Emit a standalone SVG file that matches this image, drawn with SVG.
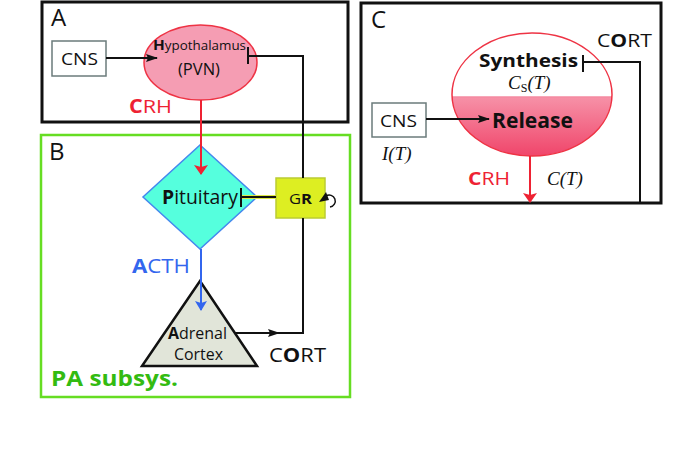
<svg xmlns="http://www.w3.org/2000/svg" width="678" height="449" viewBox="0 0 678 449">
<style>
text{font-family:"Open Sans",Lato,"DejaVu Sans",sans-serif;fill:#111}
.b{font-weight:bold}
.lbl{font-size:24px}
.frame{fill:none;stroke:#111;stroke-width:3}
.cns{fill:#fff;stroke:#6b7b7b;stroke-width:1.5}
.ln{fill:none;stroke:#111;stroke-width:2}
.math{font-family:"Liberation Serif","DejaVu Serif",serif;font-style:italic;font-size:19px}
</style>
<defs>
<marker id="ak" markerWidth="12" markerHeight="8" refX="11" refY="4" orient="auto" markerUnits="userSpaceOnUse"><path d="M0,0 L12,4 L0,8 L2,4 z" fill="#111"/></marker>
<marker id="ar" markerWidth="10" markerHeight="14" refX="9" refY="7" orient="auto" markerUnits="userSpaceOnUse"><path d="M0,0 L10,7 L0,14 L2,7 z" fill="#ee2233"/></marker>
<marker id="ab" markerWidth="10" markerHeight="12" refX="9" refY="6" orient="auto" markerUnits="userSpaceOnUse"><path d="M0,0 L10,6 L0,12 L2,6 z" fill="#3366ee"/></marker>
<linearGradient id="rg" x1="0" y1="0" x2="0" y2="1"><stop offset="0" stop-color="#fde4ea"/><stop offset="1" stop-color="#f0456a"/></linearGradient>
<clipPath id="bot"><rect x="440" y="97" width="190" height="70"/></clipPath>
</defs>

<g id="boxA"><rect class="frame" x="42" y="2" width="306" height="120"/><text class="lbl" x="51" y="26">A</text></g>
<g id="boxB"><rect x="41" y="135" width="309" height="262" fill="none" stroke="#66dd22" stroke-width="2.5"/><text class="lbl" x="49" y="160">B</text><text class="b" x="51" y="386" font-size="22" textLength="127" lengthAdjust="spacingAndGlyphs" style="fill:#33bb11">PA subsys.</text></g>
<g id="boxC"><rect class="frame" x="361" y="3" width="300" height="200"/><text class="lbl" x="371" y="28">C</text></g>

<g id="cnsA"><rect class="cns" x="52" y="41" width="54" height="35"/><text x="61" y="65" font-size="17" textLength="37" lengthAdjust="spacingAndGlyphs">CNS</text></g>
<g id="hypothalamus"><ellipse cx="200.5" cy="62.5" rx="56.5" ry="37.5" fill="#f59db3" stroke="#ee3344" stroke-width="1.5"/>
<text x="153" y="50" font-size="13" textLength="93" lengthAdjust="spacingAndGlyphs"><tspan class="b" font-size="15">H</tspan>ypothalamus</text>
<text x="178" y="75" font-size="17" textLength="42" lengthAdjust="spacingAndGlyphs">(PVN)</text></g>
<text x="129" y="113" font-size="19" textLength="43" lengthAdjust="spacingAndGlyphs" style="fill:#ee2233"><tspan class="b" style="fill:#ee2233">C</tspan>RH</text>

<g id="pituitary"><polygon points="200,145 257,197 200,249 143,197" fill="#55ffdd" stroke="#4488ee" stroke-width="1.5"/>
<text x="162" y="204" font-size="20" textLength="76" lengthAdjust="spacingAndGlyphs"><tspan class="b">P</tspan>ituitary</text></g>
<g id="gr"><rect x="276" y="178" width="49" height="40" fill="#ddee22" stroke="#bbcc33" stroke-width="1.5"/>
<text x="289" y="204" font-size="15" textLength="23" lengthAdjust="spacingAndGlyphs">G<tspan class="b">R</tspan></text>
<path d="M326,196 A6,6 0 1 1 330,207" fill="none" stroke="#111" stroke-width="1.5"/>
<path d="M319,202 L326,192 L329,200 z" fill="#111"/></g>
<text x="132" y="273" font-size="20" textLength="58" lengthAdjust="spacingAndGlyphs" style="fill:#3366ee"><tspan class="b" style="fill:#3366ee">A</tspan>CTH</text>

<g id="adrenal"><polygon points="200,281 257,366 142,366" fill="#e1e5d9" stroke="#111" stroke-width="2.5" stroke-linejoin="miter"/>
<text x="168" y="339" font-size="16" textLength="59" lengthAdjust="spacingAndGlyphs"><tspan class="b">A</tspan>drenal</text>
<text x="174" y="360" font-size="16" textLength="49" lengthAdjust="spacingAndGlyphs">Cortex</text></g>
<text x="269" y="362" font-size="20" textLength="57" lengthAdjust="spacingAndGlyphs">C<tspan class="b">O</tspan>RT</text>

<g id="unit"><ellipse cx="532" cy="94.5" rx="80" ry="61.5" fill="#fff"/>
<ellipse cx="532" cy="94.5" rx="80" ry="61.5" fill="url(#rg)" clip-path="url(#bot)"/>
<line x1="452" y1="97" x2="612" y2="97" stroke="#f48aa0" stroke-width="1.5"/>
<ellipse cx="532" cy="94.5" rx="80" ry="61.5" fill="none" stroke="#ee3344" stroke-width="1.5"/>
<text class="b" x="479" y="67" font-size="18" textLength="99" lengthAdjust="spacingAndGlyphs">Synthesis</text>
<text class="math" x="508" y="89" font-size="16">C<tspan font-style="normal" font-size="12" dy="3">S</tspan><tspan dy="-3">(T)</tspan></text>
<text class="b" x="492" y="128" font-size="21" textLength="81" lengthAdjust="spacingAndGlyphs">Release</text></g>
<g id="cnsC"><rect class="cns" x="372" y="103" width="54" height="34"/><text x="380" y="127" font-size="17" textLength="37" lengthAdjust="spacingAndGlyphs">CNS</text></g>
<text class="math" x="382" y="160">I(T)</text>
<text x="468" y="185" font-size="18" textLength="42" lengthAdjust="spacingAndGlyphs" style="fill:#ee2233"><tspan class="b" style="fill:#ee2233">C</tspan>RH</text>
<text class="math" x="547" y="185">C(T)</text>
<text x="597" y="47" font-size="18" textLength="55" lengthAdjust="spacingAndGlyphs">C<tspan class="b">O</tspan>RT</text>

<g id="connectors">
<line x1="106" y1="58" x2="157" y2="58" class="ln" stroke-width="1.5" marker-end="url(#ak)"/>
<line x1="201" y1="100" x2="201" y2="174" stroke="#ee2233" stroke-width="2" marker-end="url(#ar)"/>
<line x1="201" y1="249" x2="201" y2="310" stroke="#3366ee" stroke-width="2" marker-end="url(#ab)"/>
<polyline class="ln" points="235,333 303,333 303,218"/>
<polyline class="ln" points="303,178 303,56 248,56"/>
<line x1="236" y1="333" x2="279" y2="333" class="ln" marker-end="url(#ak)"/>
<line x1="248" y1="47" x2="248" y2="64" class="ln"/>
<line x1="242" y1="197" x2="276" y2="197" stroke="#dde844" stroke-width="4"/>
<line x1="242" y1="197" x2="276" y2="197" class="ln" stroke-width="1.5"/>
<line x1="241" y1="188" x2="241" y2="207" class="ln"/>
<line x1="426" y1="119" x2="489" y2="119" class="ln" stroke-width="1.5" marker-end="url(#ak)"/>
<line x1="530" y1="156" x2="530" y2="202" stroke="#ee2233" stroke-width="2" marker-end="url(#ar)"/>
<polyline class="ln" points="583,62 640,62 640,203"/>
<line x1="583" y1="55" x2="583" y2="72" class="ln"/>
</g>
</svg>
